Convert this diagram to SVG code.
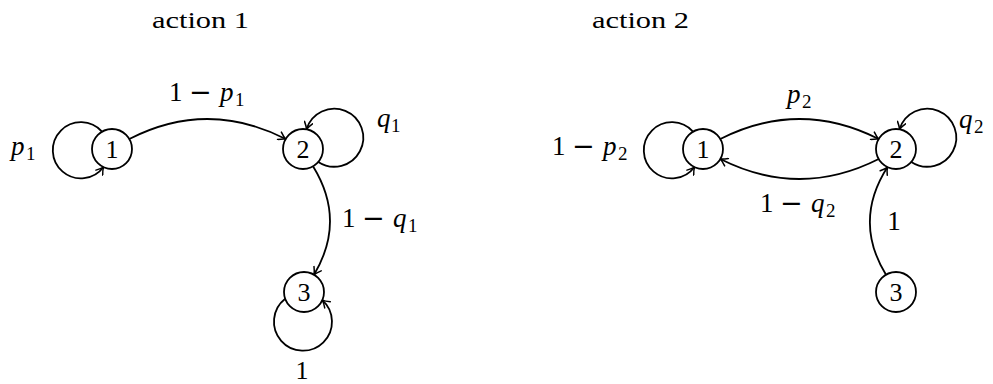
<svg xmlns="http://www.w3.org/2000/svg" width="993" height="384" viewBox="0 0 993 384" font-family="'Liberation Serif', 'Times New Roman', serif">
<style>
.nd{fill:#fff;stroke:#000;stroke-width:1.8}
.ed{fill:none;stroke:#000;stroke-width:1.8;marker-end:url(#arr)}
text{font-family:"Liberation Serif","Times New Roman",serif;fill:#000}
.num{font-size:26px;text-anchor:middle}
.lbl{font-size:27px}
.m{font-family:"DejaVu Sans",sans-serif}
.it{font-style:italic}
.sub{font-size:19px}
.ttl{font-size:23px}
</style>
<defs>
<marker id="arr" viewBox="-9 -5 11 10" refX="0" refY="0" markerWidth="11" markerHeight="10" orient="auto" markerUnits="userSpaceOnUse">
<path d="M-7,-4.2 Q-2.8,-1 0,0 Q-2.8,1 -7,4.2" fill="none" stroke="#000" stroke-width="1.5" stroke-linecap="round"/>
</marker>
</defs>
<rect width="993" height="384" fill="#fff"/>
<text class="ttl" x="152" y="28" textLength="97" lengthAdjust="spacingAndGlyphs">action 1</text>
<text class="ttl" x="592" y="28" textLength="97" lengthAdjust="spacingAndGlyphs">action 2</text>
<g id="connectors">
<path class="ed" d="M102,131.7 A28.1,28.1 0 1 0 103.5,167"/>
<path class="ed" d="M129.3,139 Q207.5,99 285.7,139"/>
<path class="ed" d="M318.3,161.9 A29,29 0 1 0 306.5,129.3"/>
<path class="ed" d="M313,166.3 Q346.5,220.5 314,274.7"/>
<path class="ed" d="M285.2,298.8 A29,29 0 1 0 322.3,300.1"/>
<path class="ed" d="M693,131.7 A28.1,28.1 0 1 0 694.5,167"/>
<path class="ed" d="M720.3,139 Q799.5,99 878.7,139"/>
<path class="ed" d="M878.7,159 Q799.5,199 720.3,159"/>
<path class="ed" d="M911.3,161.9 A29,29 0 1 0 899.5,129.3"/>
<path class="ed" d="M886,274.7 Q853,221 887.5,167.1"/>
</g>
<g id="labels">
<text class="lbl" y="101"><tspan x="169">1</tspan><tspan x="189" class="m">−</tspan><tspan x="220" class="it">p</tspan><tspan x="235" y="106" class="sub">1</tspan></text>
<text class="lbl" y="155"><tspan x="11" class="it">p</tspan><tspan x="26" y="160" class="sub">1</tspan></text>
<text class="lbl" y="127"><tspan x="377" class="it">q</tspan><tspan x="391" y="132" class="sub">1</tspan></text>
<text class="lbl" y="227"><tspan x="342">1</tspan><tspan x="362" class="m">−</tspan><tspan x="393" class="it">q</tspan><tspan x="408" y="232" class="sub">1</tspan></text>
<text class="lbl" x="302" y="379" text-anchor="middle" style="font-size:26px">1</text>
<text class="lbl" y="155"><tspan x="552">1</tspan><tspan x="572" class="m">−</tspan><tspan x="603" class="it">p</tspan><tspan x="618" y="160" class="sub">2</tspan></text>
<text class="lbl" y="103"><tspan x="787" class="it">p</tspan><tspan x="802" y="108" class="sub">2</tspan></text>
<text class="lbl" y="128"><tspan x="959" class="it">q</tspan><tspan x="974" y="133" class="sub">2</tspan></text>
<text class="lbl" y="212"><tspan x="760">1</tspan><tspan x="780" class="m">−</tspan><tspan x="811" class="it">q</tspan><tspan x="826" y="217" class="sub">2</tspan></text>
<text class="lbl" x="894" y="230" text-anchor="middle">1</text>
</g>
<g id="a1-n1"><circle class="nd" cx="112" cy="149" r="20"/><text class="num" x="112" y="158">1</text></g>
<g id="a1-n2"><circle class="nd" cx="303" cy="149" r="20"/><text class="num" x="303" y="158">2</text></g>
<g id="a1-n3"><circle class="nd" cx="304" cy="292" r="20"/><text class="num" x="304" y="301">3</text></g>
<g id="a2-n1"><circle class="nd" cx="703" cy="149" r="20"/><text class="num" x="703" y="158">1</text></g>
<g id="a2-n2"><circle class="nd" cx="896" cy="149" r="20"/><text class="num" x="896" y="158">2</text></g>
<g id="a2-n3"><circle class="nd" cx="896" cy="292" r="20"/><text class="num" x="896" y="301">3</text></g>
</svg>
